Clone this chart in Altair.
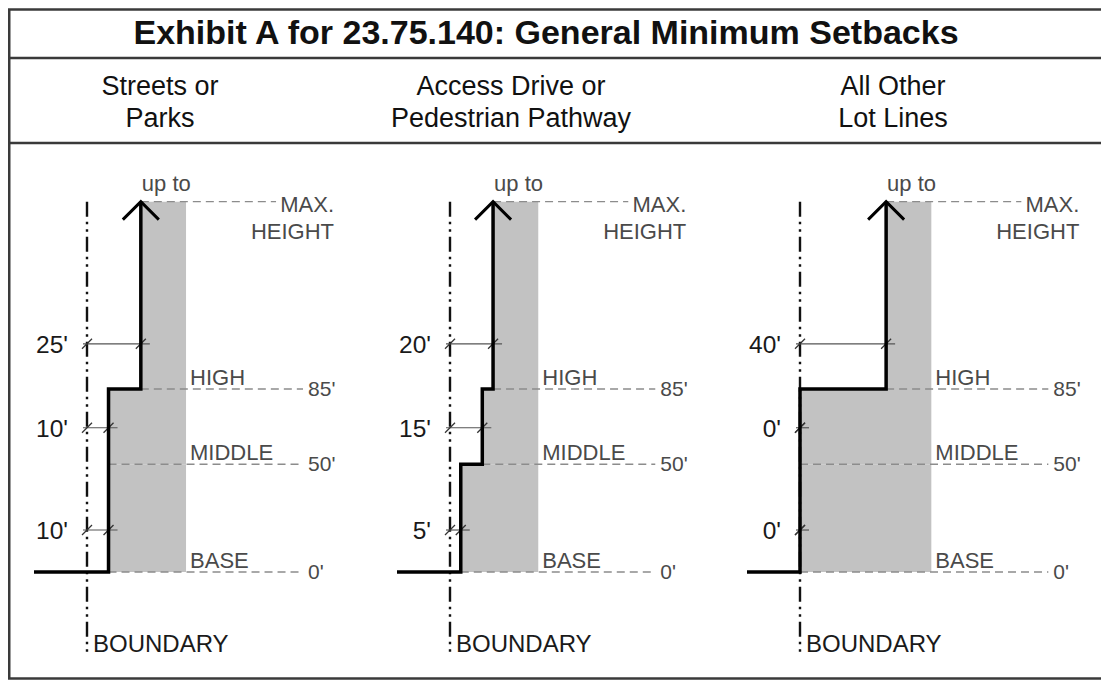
import altair as alt
import pandas as pd

# ---------------- data (values read from the exhibit) ----------------
exhibit_title = "Exhibit A for 23.75.140: General Minimum Setbacks"
header_line1 = ["Streets or", "Access Drive or", "All Other"]
header_line2 = ["Parks", "Pedestrian Pathway", "Lot Lines"]

level_names = ["BASE", "MIDDLE", "HIGH"]
level_heights_ft = [0, 50, 85]
level_labels = ["0'", "50'", "85'"]
max_height_ft = 172            # schematic "up to MAX. HEIGHT"

setback_base = [10, 5, 0]      # feet, per panel
setback_middle = [10, 15, 0]
setback_high = [25, 20, 40]
dimension_heights_ft = [19.5, 67, 106]   # where each setback dimension is drawn

# ---------------- layout / style constants ----------------
W, H = 1093, 672               # drawing area (page minus 8px margin)
K = 2.153                      # px per foot
BASE_CY = 564                  # chart-y of the 0' line
panel_origin_page_x = [87, 450, 800]
header_center_page_x = [160, 511, 893]
FONT = "Liberation Sans"
GRAY_TXT = "#4a4a4a"
DARK = "#1a1a1a"

def fx(page_x):                # page px -> x feet
    return (page_x - 8) / K

def fy(page_y):                # page px -> y feet
    return (BASE_CY - (page_y - 8)) / K

def d(px):                     # px distance -> feet
    return px / K

xs = alt.Scale(domain=[0, W / K], nice=False, zero=False)
ys = alt.Scale(domain=[(BASE_CY - H) / K, BASE_CY / K], nice=False, zero=False)

def X(f="x"):
    return alt.X(f, type="quantitative", scale=xs, axis=None)

def Y(f="y"):
    return alt.Y(f, type="quantitative", scale=ys, axis=None)

origins = [fx(p) for p in panel_origin_page_x]
edges = [o + h + 21 for o, h in zip(origins, setback_high)]   # right edge of grey envelope

# ---------------- build tables ----------------
step_rows, rect_rows, level_rows, max_rows = [], [], [], []
dim_rows, tick_rows, bnd_rows = [], [], []
for p in range(3):
    o = origins[p]
    b, m, h = setback_base[p], setback_middle[p], setback_high[p]
    pts = [(-d(53), 0), (b, 0), (b, 50), (m, 50), (m, 85), (h, 85), (h, max_height_ft)]
    for i, (px_, py_) in enumerate(pts):
        step_rows.append({"panel": p, "order": i, "x": o + px_, "y": py_})
    bands = [(b, 0, 50), (m, 50, 85), (h, 85, max_height_ft)]
    for sb, lo, hi in bands:
        rect_rows.append({"panel": p, "x": o + sb, "x2": edges[p], "y": lo, "y2": hi})
    for i, lv in enumerate(level_heights_ft):
        sb = bands[i][0]
        level_rows.append({"panel": p, "x": o + sb, "x2": edges[p] + d(117), "y": lv,
                           "edge": edges[p], "name": level_names[i], "label": level_labels[i]})
    max_rows.append({"panel": p, "x": o + h, "x2": edges[p] + d(90), "y": max_height_ft,
                     "edge": edges[p], "txt": "MAX.\nHEIGHT", "up": "up to"})
    sbs = [b, m, h]
    for i, dh in enumerate(dimension_heights_ft):
        dim_rows.append({"panel": p, "x": o - d(4), "x2": o + sbs[i] + d(9), "y": dh,
                         "ox": o, "label": f"{sbs[i]}'"})
        tick_rows.append({"x": o, "y": dh})
        tick_rows.append({"x": o + sbs[i], "y": dh})
    bnd_rows.append({"x": o, "y": max_height_ft, "y2": fy(652), "txt": "BOUNDARY"})

step_df = pd.DataFrame(step_rows)
rect_df = pd.DataFrame(rect_rows)
level_df = pd.DataFrame(level_rows)
max_df = pd.DataFrame(max_rows)
dim_df = pd.DataFrame(dim_rows)
tick_df = pd.DataFrame(tick_rows)
bnd_df = pd.DataFrame(bnd_rows)

header_df = pd.DataFrame(
    [{"x": fx(cx), "y": fy(95), "t": t} for cx, t in zip(header_center_page_x, header_line1)]
    + [{"x": fx(cx), "y": fy(127), "t": t} for cx, t in zip(header_center_page_x, header_line2)]
)
title_df = pd.DataFrame([{"x": fx(546), "y": fy(44), "t": exhibit_title}])

frame_h = pd.DataFrame([
    {"x": fx(8), "x2": fx(8 + W), "y": fy(9.5)},
    {"x": fx(8), "x2": fx(8 + W), "y": fy(58)},
    {"x": fx(8), "x2": fx(8 + W), "y": fy(143)},
    {"x": fx(8), "x2": fx(8 + W), "y": fy(678.5)},
])
frame_v = pd.DataFrame([{"x": fx(9.2), "y": fy(9), "y2": fy(679)}])

# ---------------- layers ----------------
grey = alt.Chart(rect_df).mark_rect(color="#c2c2c2").encode(
    x=X(), x2="x2", y=Y(), y2="y2")

lvl_lines = alt.Chart(level_df).mark_rule(color="#8c8c8c", strokeWidth=1.5, strokeDash=[8, 5]).encode(
    x=X(), x2="x2", y=Y())
max_line = alt.Chart(max_df).mark_rule(color="#8c8c8c", strokeWidth=1.3, strokeDash=[8, 5]).encode(
    x=X(), x2="x2", y=Y())

boundary = alt.Chart(bnd_df).mark_rule(color="#111111", strokeWidth=2.4,
                                       strokeDash=[15, 5, 2.5, 5, 2.5, 5]).encode(
    x=X(), y=Y(), y2="y2")

dims = alt.Chart(dim_df).mark_rule(color="#555555", strokeWidth=1.2).encode(
    x=X(), x2="x2", y=Y())
ticks = alt.Chart(tick_df).mark_point(shape="M-1,1L1,-1", size=100, filled=False,
                                      strokeWidth=1.3, color="#333333", opacity=1).encode(
    x=X(), y=Y())

step = alt.Chart(step_df).mark_line(color="black", strokeWidth=3.5, strokeJoin="miter",
                                    strokeCap="butt").encode(
    x=X(), y=Y(), detail="panel:N", order="order:Q")
arrow = alt.Chart(max_df).mark_point(shape="M-1,1L0,0L1,1", size=1296, filled=False,
                                     strokeWidth=3, color="black", opacity=1,
                                     strokeJoin="miter").encode(
    x=X(), y=Y())

txt = dict(font=FONT)
lvl_names = alt.Chart(level_df).mark_text(align="left", baseline="alphabetic", dx=4, dy=-4,
                                          fontSize=22, color=GRAY_TXT, **txt).encode(
    x=X("edge"), y=Y(), text="name:N")
lvl_vals = alt.Chart(level_df).mark_text(align="left", baseline="middle", dx=122, dy=1,
                                         fontSize=21, color=GRAY_TXT, **txt).encode(
    x=X("edge"), y=Y(), text="label:N")
max_lbl = alt.Chart(max_df).mark_text(align="right", baseline="alphabetic", dx=148, dy=10,
                                      lineBreak="\n", lineHeight=27,
                                      fontSize=22, color=GRAY_TXT, **txt).encode(
    x=X("edge"), y=Y(), text="txt:N")
upto = alt.Chart(max_df).mark_text(align="left", baseline="alphabetic", dx=1, dy=-11,
                                   fontSize=22, color=GRAY_TXT, **txt).encode(
    x=X(), y=Y(), text="up:N")
dim_lbl = alt.Chart(dim_df).mark_text(align="right", baseline="middle", dx=-19, dy=2,
                                      fontSize=24.5, color=DARK, **txt).encode(
    x=X("ox"), y=Y(), text="label:N")
bnd_lbl = alt.Chart(bnd_df).mark_text(align="left", baseline="alphabetic", dx=6,
                                      fontSize=24, color=DARK, **txt).encode(
    x=X(), y=Y("y2"), text="txt:N")

fr_h = alt.Chart(frame_h).mark_rule(color="#3a3a3a", strokeWidth=2.6).encode(
    x=X(), x2="x2", y=Y())
fr_v = alt.Chart(frame_v).mark_rule(color="#3a3a3a", strokeWidth=2.6).encode(
    x=X(), y=Y(), y2="y2")

headers = alt.Chart(header_df).mark_text(align="center", baseline="alphabetic",
                                         fontSize=27, color="#111111", **txt).encode(
    x=X(), y=Y(), text="t:N")
title = alt.Chart(title_df).mark_text(align="center", baseline="alphabetic",
                                      fontSize=34, fontWeight="bold", color="#111111", **txt).encode(
    x=X(), y=Y(), text="t:N")

chart = alt.layer(
    grey, lvl_lines, max_line, boundary, dims, ticks, step, arrow,
    lvl_names, lvl_vals, max_lbl, upto, dim_lbl, bnd_lbl,
    fr_h, fr_v, headers, title,
).properties(
    width=W, height=H, padding=0, autosize=alt.AutoSizeParams(type="none"),
    background="white",
).configure_view(stroke=None)

chart.save("out.html", embed_options={"renderer": "svg", "actions": False})
